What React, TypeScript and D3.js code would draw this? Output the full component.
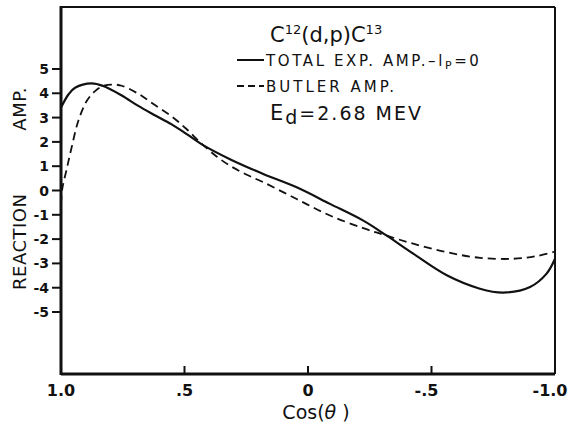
import React from "react";
import * as d3 from "d3";

// cos(theta) samples and amplitudes
const totalCos = [1.0, 0.97, 0.943, 0.876, 0.829, 0.754, 0.687, 0.626, 0.552, 0.491, 0.43, 0.316, 0.181, 0.046, -0.089, -0.224, -0.319, -0.426, -0.562, -0.696, -0.791, -0.899, -0.966, -1.0];
const totalAmp = [3.41, 3.95, 4.23, 4.41, 4.3, 3.91, 3.48, 3.13, 2.72, 2.32, 1.9, 1.29, 0.68, 0.13, -0.55, -1.24, -1.86, -2.6, -3.49, -4.04, -4.2, -3.97, -3.42, -2.81];

const butlerCos = [1.0, 0.995, 0.977, 0.957, 0.93, 0.896, 0.862, 0.829, 0.795, 0.754, 0.687, 0.626, 0.552, 0.491, 0.43, 0.37, 0.316, 0.25, 0.181, 0.046, -0.089, -0.224, -0.319, -0.426, -0.562, -0.696, -0.831, -0.926, -1.0];
const butlerAmp = [-0.55, 0.06, 0.88, 1.77, 2.86, 3.68, 4.09, 4.3, 4.36, 4.31, 3.98, 3.56, 3.05, 2.52, 1.92, 1.4, 1.02, 0.66, 0.34, -0.35, -1.03, -1.55, -1.86, -2.19, -2.54, -2.77, -2.81, -2.7, -2.51];

const yTicks = [5, 4, 3, 2, 1, 0, -1, -2, -3, -4, -5];
const xTicks = [1.0, 0.5, 0, -0.5, -1.0];
const xTickLabels = ["1.0", ".5", "0", "-.5", "-1.0"];

const W = 572;
const H = 425;
const left = 61, right = 555, top = 7, bottom = 374;
const font = "'DejaVu Sans', sans-serif";

export default function App() {
  const x = d3.scaleLinear().domain([1, -1]).range([left, right]);
  const y = d3.scaleLinear().domain([-7.55, 7.55]).range([bottom, top]);

  const line = d3
    .line<[number, number]>()
    .x((d) => x(d[0]))
    .y((d) => y(d[1]))
    .curve(d3.curveCatmullRom.alpha(0.5));

  const totalPath = line(totalCos.map((c, i) => [c, totalAmp[i]]))!;
  const butlerPath = line(butlerCos.map((c, i) => [c, butlerAmp[i]]))!;

  return (
    <svg
      width={W}
      height={H}
      style={{ position: "absolute", left: 0, top: 0, background: "#fff" }}
      fontFamily={font}
    >
      <rect x={0} y={0} width={W} height={H} fill="#fff" />

      {/* curves */}
      <path d={totalPath} fill="none" stroke="#111" strokeWidth={2.2} />
      <path d={butlerPath} fill="none" stroke="#111" strokeWidth={1.8} strokeDasharray="8,5" />

      {/* frame */}
      <line x1={left} y1={top} x2={right} y2={top} stroke="#111" strokeWidth={2} />
      <line x1={right} y1={top} x2={right} y2={bottom} stroke="#111" strokeWidth={2} />
      <line x1={left} y1={top - 1} x2={left} y2={bottom + 1} stroke="#111" strokeWidth={3} />
      <line x1={left} y1={bottom} x2={right} y2={bottom} stroke="#111" strokeWidth={3} />

      {/* y ticks */}
      {yTicks.map((t) => (
        <g key={t}>
          <line x1={left - 9} x2={left} y1={y(t)} y2={y(t)} stroke="#111" strokeWidth={2} />
          <text
            x={left - 12}
            y={y(t)}
            dy="0.36em"
            textAnchor="end"
            fontSize={14}
            fontWeight="bold"
            fill="#111"
          >
            {t < 0 ? `-${Math.abs(t)}` : t}
          </text>
        </g>
      ))}

      {/* x ticks */}
      {xTicks.map((t, i) => (
        <g key={t}>
          {i > 0 && i < xTicks.length - 1 && (
            <line x1={x(t)} x2={x(t)} y1={bottom} y2={bottom - 8} stroke="#111" strokeWidth={2} />
          )}
          <text
            x={x(t) + (t < 0 ? -5 : 0)}
            y={396}
            textAnchor="middle"
            fontSize={16}
            fontWeight="bold"
            fill="#111"
          >
            {xTickLabels[i]}
          </text>
        </g>
      ))}

      {/* axis titles */}
      <text x={316} y={419} textAnchor="middle" fontSize={19} fill="#111">
        Cos(<tspan fontStyle="italic">θ</tspan> )
      </text>
      <text transform="translate(26,290) rotate(-90)" fontSize={18} fill="#111" letterSpacing={0.5}>
        REACTION
      </text>
      <text transform="translate(26,87) rotate(-90)" textAnchor="end" fontSize={18} fill="#111" letterSpacing={0.5}>
        AMP.
      </text>

      {/* annotation */}
      <text x={270} y={42} fontSize={21} fill="#111">
        C<tspan fontSize={13} dy={-8}>12</tspan>
        <tspan dy={8}>(d,p)C</tspan>
        <tspan fontSize={13} dy={-8}>13</tspan>
      </text>

      <line x1={237} x2={264} y1={60} y2={60} stroke="#111" strokeWidth={2} />
      <text x={266} y={66} fontSize={15} fill="#111" letterSpacing={2.6}>
        TOTAL EXP. AMP.–l<tspan fontSize={11} dy={3}>P</tspan>
        <tspan dy={-3}>=0</tspan>
      </text>

      <line x1={237} x2={264} y1={86} y2={86} stroke="#111" strokeWidth={1.8} strokeDasharray="7,4" />
      <text x={266} y={92} fontSize={15} fill="#111" letterSpacing={3}>
        BUTLER  AMP.
      </text>

      <text x={270} y={120} fontSize={21} fill="#111" letterSpacing={2}>
        E<tspan fontSize={19} dy={4}>d</tspan>
        <tspan dy={-4} fontSize={19}>=2.68  MEV</tspan>
      </text>
    </svg>
  );
}
